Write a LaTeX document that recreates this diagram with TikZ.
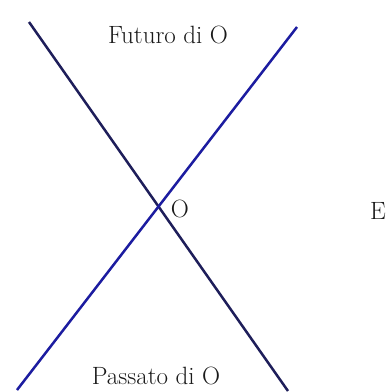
\documentclass[tikz,border=0pt]{standalone}
\usepackage{xcolor}
\definecolor{lineA}{HTML}{1E1E5A}
\definecolor{lineB}{HTML}{1C1CA0}
\definecolor{txt}{HTML}{1A1A1A}
\begin{document}
\begin{tikzpicture}[x=1pt,y=-1pt,
  worldline/.style={line width=2.5pt},
  lbl/.style={inner sep=0pt,text=txt,font=\fontsize{25}{30}\selectfont}]
\useasboundingbox (0,0) rectangle (392,392);
\fill[white] (0,0) rectangle (392,392);
\coordinate (d1) at (29,22);
\coordinate (d2) at (288,391);
\coordinate (u1) at (17,390);
\coordinate (u2) at (297,27);
\draw[worldline,lineA] (d1) -- (d2);
\draw[worldline,lineB] (u1) -- (u2);
\node[lbl] (fut) at (168,35) {Futuro di O};
\node[lbl] (pas) at (156,376) {Passato di O};
\node[lbl] (o) at (180,208.5) {O};
\node[lbl] (e) at (378,211) {E};
\end{tikzpicture}
\end{document}
